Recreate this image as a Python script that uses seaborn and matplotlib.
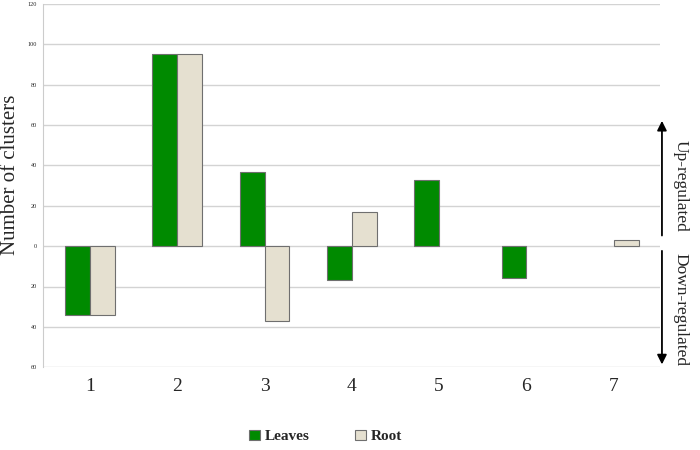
import matplotlib
matplotlib.use("Agg")
from matplotlib import pyplot as plt
import numpy as np
import pandas as pd
import seaborn as sns

# cluster numbers and signed counts (positive = up-regulated, negative = down-regulated)
clusters = ["1", "2", "3", "4", "5", "6", "7"]
leaves = [-34, 95, 37, -17, 33, -16, np.nan]
root = [-34, 95, -37, 17, np.nan, np.nan, 3]
tissues = ["Leaves", "Root"]

df = pd.DataFrame({
    "cluster": clusters * 2,
    "count": leaves + root,
    "tissue": ["Leaves"] * 7 + ["Root"] * 7,
})

sns.set_style("white")
plt.rcParams["font.family"] = ["Liberation Serif", "DejaVu Serif"]

fig, ax = plt.subplots(figsize=(7, 4.5), dpi=100)
fig.subplots_adjust(left=0.061, right=0.943, top=0.991, bottom=0.184)

sns.barplot(data=df, x="cluster", y="count", hue="tissue", hue_order=tissues,
            order=clusters, palette=["#008a00", "#e5e0d0"], width=0.57,
            edgecolor="#6f6f6f", linewidth=0.8, saturation=1, ax=ax, zorder=3)

ax.set_ylim(-60, 120)
ax.set_xlim(-0.54, 6.53)
yt = np.arange(-60, 121, 20)
ax.set_yticks(yt)
ax.set_yticklabels([str(abs(v)) for v in yt], fontsize=4.5)
ax.tick_params(axis="y", length=3, width=0.6, color="#bbbbbb", pad=1)
ax.tick_params(axis="x", length=0, labelsize=14, pad=8)
ax.yaxis.grid(True, color="#d3d3d3", linewidth=1, zorder=0)
ax.set_axisbelow(True)
for s in ["top", "right"]:
    ax.spines[s].set_visible(False)
ax.spines["left"].set_color("#cccccc")
ax.spines["bottom"].set_visible(False)
ax.set_xlabel("")
ax.set_ylabel("Number of clusters", fontsize=15)
ax.yaxis.set_label_coords(-0.036, 0.53)

# legend at bottom
handles, labels = ax.get_legend_handles_labels()
ax.get_legend().remove()
fig.legend(handles, labels, loc="center", bbox_to_anchor=(0.465, 0.03), ncol=2,
           frameon=False, handlelength=0.7, handleheight=0.7, handletextpad=0.3,
           columnspacing=3.0, prop={"weight": "bold", "size": 11})

# up / down arrows on the right
arrow = dict(arrowstyle="-|>", color="black", lw=1.3, mutation_scale=14)
ax.annotate("", xy=(1.003, 0.686), xytext=(1.003, 0.355),
            xycoords="axes fraction", arrowprops=arrow, annotation_clip=False)
ax.annotate("", xy=(1.003, 0.0), xytext=(1.003, 0.328),
            xycoords="axes fraction", arrowprops=arrow, annotation_clip=False)
ax.text(1.033, 0.50, "Up-regulated", transform=ax.transAxes, rotation=-90,
        ha="center", va="center", fontsize=12.5)
ax.text(1.033, 0.16, "Down-regulated", transform=ax.transAxes, rotation=-90,
        ha="center", va="center", fontsize=12.5)

fig.savefig("out.png", dpi=100)
